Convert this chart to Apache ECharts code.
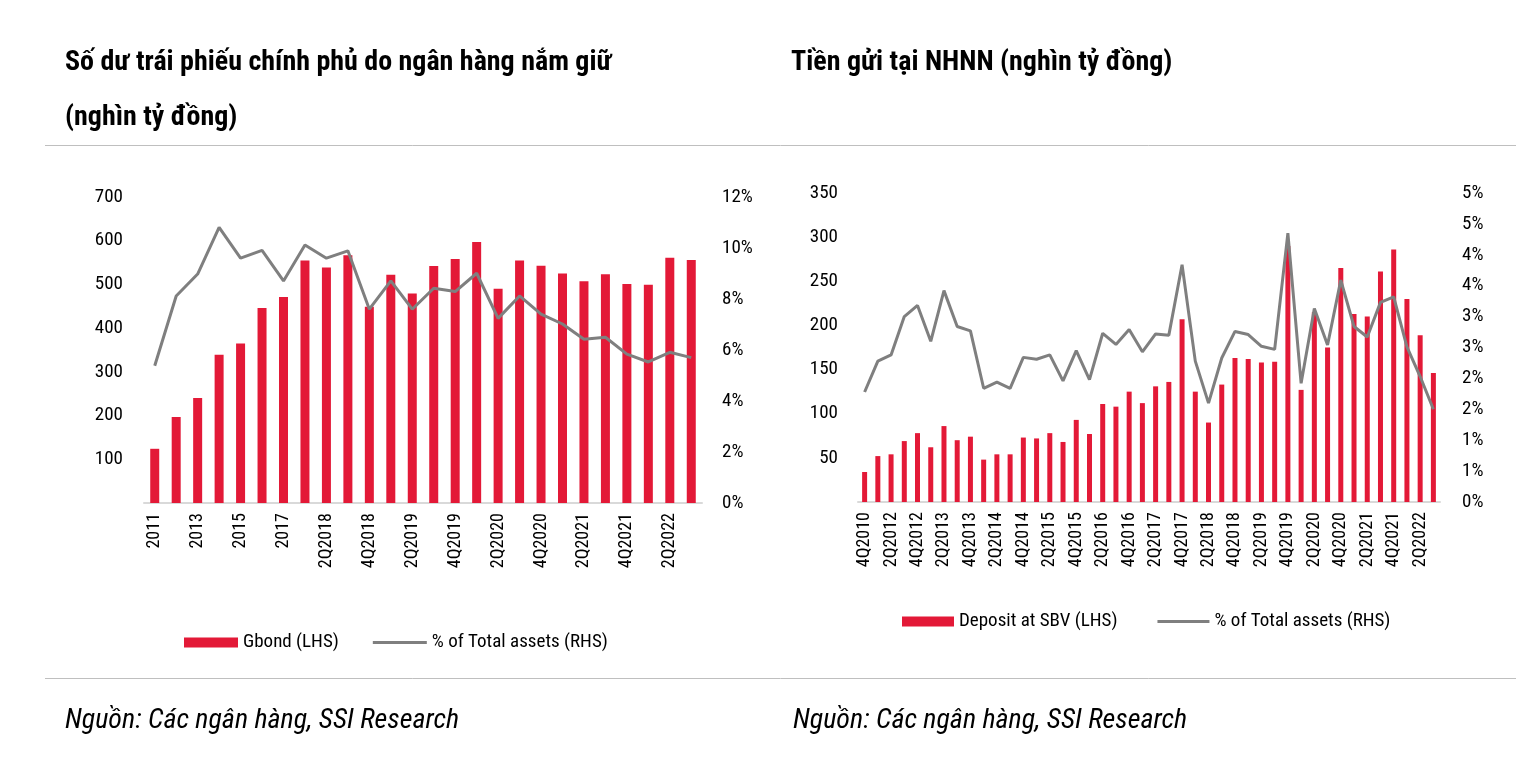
<!DOCTYPE html>
<html>
<head>
<meta charset="utf-8">
<script src="https://cdn.jsdelivr.net/npm/echarts@6/dist/echarts.min.js"></script>
<style>
html,body{margin:0;padding:0;background:#fff;}
#c{width:1526px;height:766px;}
</style>
</head>
<body>
<div id="c"></div>
<script>
// ---- Left chart data ----
const leftCategories = ['2011','2012','2013','2014','2015','2016','2017','1Q2018','2Q2018','3Q2018','4Q2018','1Q2019','2Q2019','3Q2019','4Q2019','1Q2020','2Q2020','3Q2020','4Q2020','1Q2021','2Q2021','3Q2021','4Q2021','1Q2022','2Q2022','3Q2022'];
const gbond = [124,197,240,339,365,446,471,555,539,567,449,522,479,542,558,597,490,555,543,525,507,523,501,499,561,556];
const gbondPctAssets = [5.38,8.12,8.98,10.81,9.6,9.91,8.71,10.12,9.6,9.89,7.6,8.71,7.6,8.42,8.29,9.01,7.24,8.12,7.41,7.02,6.42,6.5,5.84,5.53,5.91,5.7];

// ---- Right chart data ----
const rightCategories = ['4Q2010','4Q2011','2Q2012','3Q2012','4Q2012','1Q2013','2Q2013','3Q2013','4Q2013','1Q2014','2Q2014','3Q2014','4Q2014','1Q2015','2Q2015','3Q2015','4Q2015','1Q2016','2Q2016','3Q2016','4Q2016','1Q2017','2Q2017','3Q2017','4Q2017','1Q2018','2Q2018','3Q2018','4Q2018','1Q2019','2Q2019','3Q2019','4Q2019','1Q2020','2Q2020','3Q2020','4Q2020','1Q2021','2Q2021','3Q2021','4Q2021','1Q2022','2Q2022','3Q2022'];
const depositSBV = [34,52,54,69,78,62,86,70,74,48,54,54,73,72,78,68,93,77,111,108,125,112,131,136,207,125,90,133,163,162,158,159,290,127,215,175,265,213,210,261,286,230,189,146];
const depositPctAssets = [1.78,2.28,2.38,3.0,3.18,2.6,3.42,2.84,2.77,1.84,1.94,1.84,2.34,2.31,2.38,1.96,2.45,1.98,2.73,2.55,2.79,2.43,2.72,2.70,3.84,2.28,1.60,2.33,2.76,2.71,2.52,2.47,4.35,1.92,3.13,2.54,3.59,2.84,2.67,3.23,3.32,2.51,2.03,1.50];

// ---- Text ----
const leftTitle = 'Số dư trái phiếu chính phủ do ngân hàng nắm giữ\n(nghìn tỷ đồng)';
const rightTitle = 'Tiền gửi tại NHNN (nghìn tỷ đồng)';
const sourceText = 'Nguồn: Các ngân hàng, SSI Research';
const nameGbond = 'Gbond (LHS)';
const nameDeposit = 'Deposit at SBV (LHS)';
const namePct = '% of Total assets (RHS)';
const namePct2 = '% of Total assets (RHS) ';

const RED = '#e31937';
const GREY = '#7f7f7f';
const FONT = "'Liberation Sans Narrow','Arial Narrow','Roboto Condensed','DejaVu Sans Condensed',sans-serif";
const LINE_ICON = 'path://M0,0H54V3H0Z';

const chart = echarts.init(document.getElementById('c'));
const axisLabel = {color:'#000', fontSize:19, fontFamily:FONT};
const xLabel = {color:'#000', fontSize:18, fontFamily:FONT, rotate:90, interval:1, margin:10};

chart.setOption({
  animation:false,
  textStyle:{fontFamily:FONT},
  title:[
    {text:leftTitle, left:60, top:30, textStyle:{fontSize:28, fontWeight:'bold', color:'#000', fontFamily:FONT, lineHeight:55}},
    {text:rightTitle, left:786, top:30, textStyle:{fontSize:28, fontWeight:'bold', color:'#000', fontFamily:FONT, lineHeight:55}},
    {text:sourceText, left:60, top:702, textStyle:{fontSize:28, fontWeight:'normal', fontStyle:'italic', color:'#000', fontFamily:FONT}},
    {text:sourceText, left:788, top:702, textStyle:{fontSize:28, fontWeight:'normal', fontStyle:'italic', color:'#000', fontFamily:FONT}}
  ],
  graphic:[
    {type:'line', shape:{x1:45,y1:145.5,x2:1516,y2:145.5}, style:{stroke:'#bfbfbf', lineWidth:1}},
    {type:'line', shape:{x1:45,y1:678.5,x2:1516,y2:678.5}, style:{stroke:'#bfbfbf', lineWidth:1}}
  ],
  legend:[
    {data:[{name:nameGbond, icon:'rect'}, {name:namePct, icon:LINE_ICON}], left:179, top:628, itemWidth:54, itemHeight:10, itemGap:34,
     textStyle:{fontSize:19, color:'#000', fontFamily:FONT}},
    {data:[{name:nameDeposit, icon:'rect'}, {name:namePct2, icon:LINE_ICON}], left:897, top:607, itemWidth:52, itemHeight:10, itemGap:40,
     textStyle:{fontSize:19, color:'#000', fontFamily:FONT}, formatter:function(n){return n.trim();}}
  ],
  grid:[
    {left:144, right:824, top:197, bottom:263},
    {left:858, right:86, top:193, bottom:264}
  ],
  xAxis:[
    {type:'category', gridIndex:0, data:leftCategories, axisTick:{show:false},
     axisLine:{lineStyle:{color:'#d9d9d9', width:2}}, axisLabel:xLabel},
    {type:'category', gridIndex:1, data:rightCategories, axisTick:{show:false},
     axisLine:{lineStyle:{color:'#d9d9d9', width:2}}, axisLabel:xLabel}
  ],
  yAxis:[
    {type:'value', gridIndex:0, min:0, max:700, interval:100, splitLine:{show:false},
     axisLine:{show:false}, axisTick:{show:false},
     axisLabel:Object.assign({}, axisLabel, {margin:21, formatter:function(v){return v===0?'':v;}})},
    {type:'value', gridIndex:0, min:0, max:12, interval:2, position:'right', splitLine:{show:false},
     axisLine:{show:false}, axisTick:{show:false},
     axisLabel:Object.assign({}, axisLabel, {margin:20, formatter:function(v){return v+'%';}})},
    {type:'value', gridIndex:1, min:0, max:350, interval:50, splitLine:{show:false},
     axisLine:{show:false}, axisTick:{show:false},
     axisLabel:Object.assign({}, axisLabel, {margin:20, formatter:function(v){return v===0?'':v;}})},
    {type:'value', gridIndex:1, min:0, max:5, interval:0.5, position:'right', splitLine:{show:false},
     axisLine:{show:false}, axisTick:{show:false},
     axisLabel:Object.assign({}, axisLabel, {margin:22, formatter:function(v){return Math.round(v)+'%';}})}
  ],
  series:[
    {name:nameGbond, type:'bar', xAxisIndex:0, yAxisIndex:0, data:gbond, barWidth:9, itemStyle:{color:RED}},
    {name:namePct, type:'line', xAxisIndex:0, yAxisIndex:1, data:gbondPctAssets, symbol:'none',
     lineStyle:{color:GREY, width:3}, itemStyle:{color:GREY}, z:5},
    {name:nameDeposit, type:'bar', xAxisIndex:1, yAxisIndex:2, data:depositSBV, barWidth:5, itemStyle:{color:RED}},
    {name:namePct2, type:'line', xAxisIndex:1, yAxisIndex:3, data:depositPctAssets, symbol:'none',
     lineStyle:{color:GREY, width:3}, itemStyle:{color:GREY}, z:5}
  ]
});
</script>
</body>
</html>
